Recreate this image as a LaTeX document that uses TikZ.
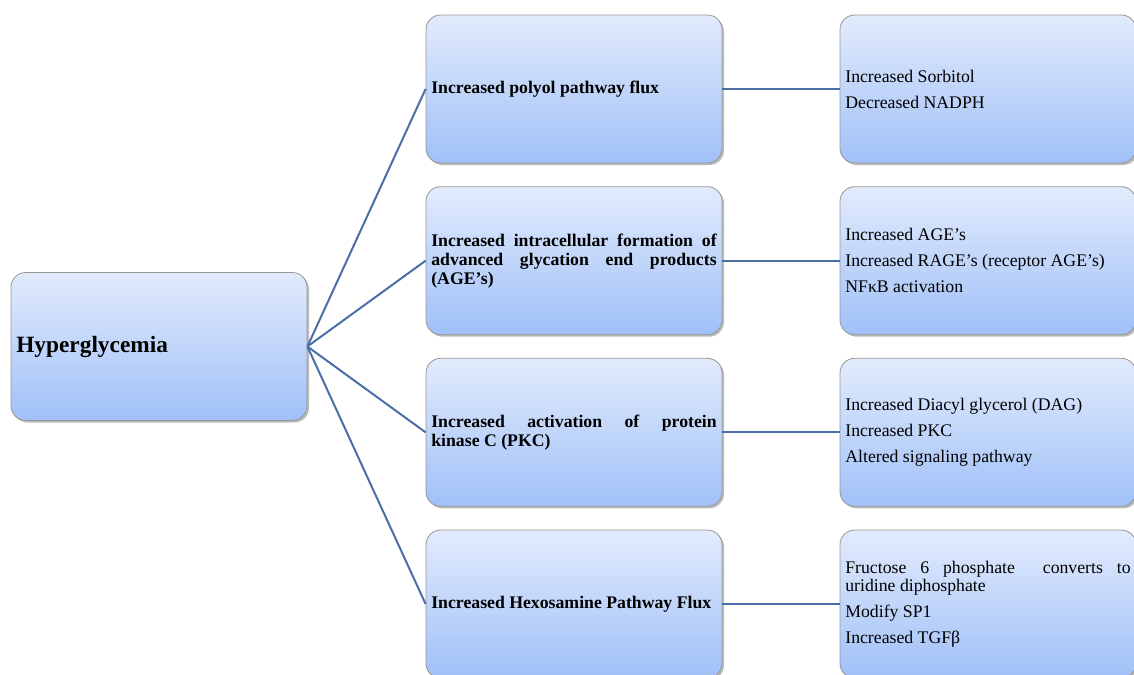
\documentclass[tikz,border=0pt]{standalone}
\usepackage{fontspec}
\setmainfont{Liberation Serif}
\usetikzlibrary{positioning, shadows, calc}
\definecolor{boxtop}{RGB}{226,235,252}
\definecolor{boxbottom}{RGB}{160,192,248}
\definecolor{boxline}{RGB}{150,150,150}
\definecolor{linkblue}{RGB}{74,111,165}

\begin{document}
\begin{tikzpicture}[x=0.75pt, y=-0.75pt,
		box/.style={draw=boxline, line width=0.6pt, rounded corners=11pt, top color=boxtop, bottom color=boxbottom,
			minimum width=222pt, minimum height=111pt, inner xsep=4pt, text width=214pt,
			drop shadow={shadow xshift=1.5pt, shadow yshift=-1.5pt, fill=black!60, opacity=0.45},
			execute at begin node={\hyphenpenalty=10000\relax}},
		midbox/.style={box, align=justify, font=\bfseries\fontsize{13.3}{14.25}\selectfont},
		effectbox/.style={box, align=justify, font=\fontsize{13.3}{13.5}\selectfont},
		link/.style={draw=linkblue, line width=1.5pt}]
		\useasboundingbox (0,0) rectangle (1134,674);
		\pgfmathsetmacro{\midx}{574}
		\pgfmathsetmacro{\rightx}{988}
		\pgfmathsetmacro{\rowtop}{89}
		\pgfmathsetmacro{\rowgap}{171.67}
		
		\node[box, align=left, font=\bfseries\fontsize{17.5}{19}\selectfont] (hyper) at (159,346.5) {Hyperglycemia};
		
		\node[midbox] (polyol) at (\midx,\rowtop) {Increased polyol pathway flux};
		\node[midbox] (age) at (\midx,\rowtop+\rowgap) {Increased intracellular formation of\linebreak advanced glycation end products\linebreak (AGE’s)};
		\node[midbox] (pkc) at (\midx,\rowtop+2*\rowgap) {Increased activation of protein\linebreak kinase C (PKC)};
		\node[midbox] (hexo) at (\midx,\rowtop+3*\rowgap) {Increased Hexosamine Pathway Flux};
		
		\node[effectbox] (polyolfx) at (\rightx,\rowtop) {Increased Sorbitol\\[6pt]Decreased NADPH};
		\node[effectbox] (agefx) at (\rightx,\rowtop+\rowgap) {Increased AGE’s\\[6pt]Increased RAGE’s (receptor AGE’s)\\[6pt]NFκB activation};
		\node[effectbox] (pkcfx) at (\rightx,\rowtop+2*\rowgap) {Increased Diacyl glycerol (DAG)\\[6pt]Increased PKC\\[6pt]Altered signaling pathway};
		\node[effectbox] (hexofx) at (\rightx,\rowtop+3*\rowgap) {Fructose 6 phosphate \ converts to\linebreak uridine diphosphate\\[6pt]Modify SP1\\[6pt]Increased TGFβ};
		
		% hyperglycemia to the four pathways
		\foreach \n in {polyol, age, pkc, hexo}
		\draw[link] (hyper.east) -- (\n.west);
		% pathways to their effects
		\foreach \n in {polyol, age, pkc, hexo}
		\draw[link] (\n.east) -- (\n fx.west);
\end{tikzpicture}
\end{document}
